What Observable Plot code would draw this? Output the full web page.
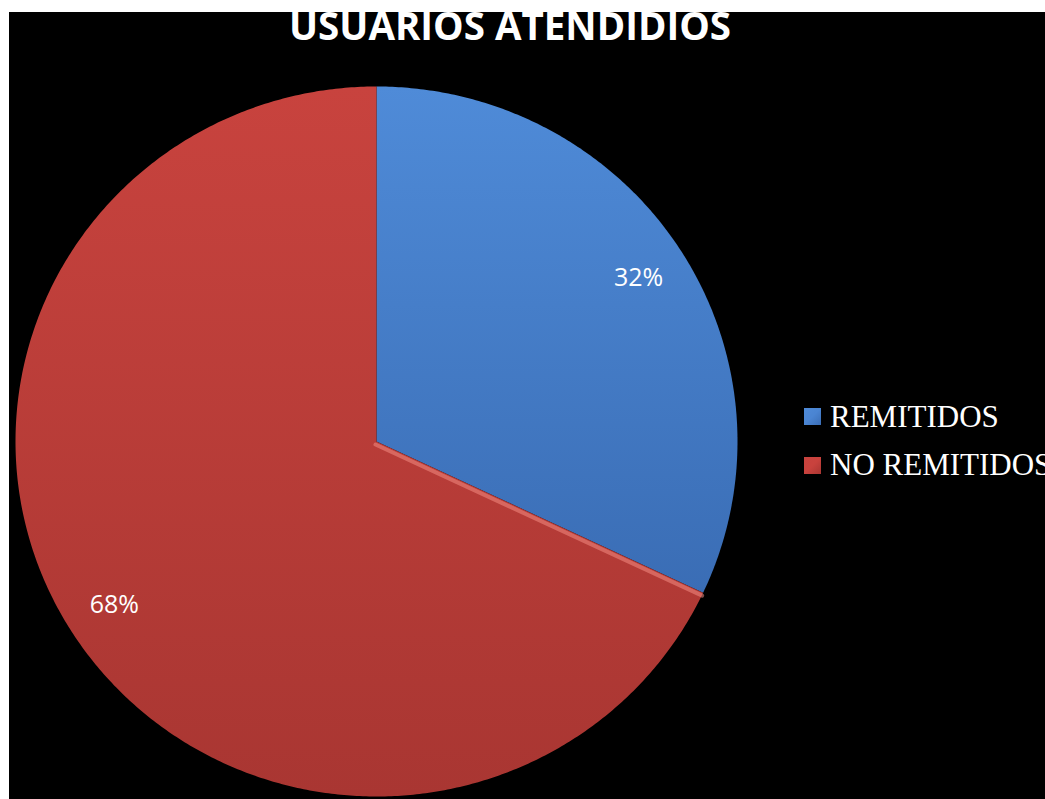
<!DOCTYPE html>
<html><head><meta charset="utf-8">
<script src="https://cdn.jsdelivr.net/npm/d3@7"></script>
<script src="https://cdn.jsdelivr.net/npm/@observablehq/plot@0.6"></script>
<style>
html,body{margin:0;padding:0;background:#fff;}
#wrap{position:absolute;left:9px;top:12px;width:1036px;height:787px;background:#000;overflow:hidden;}
#title{position:absolute;left:0;width:1002px;top:-6.5px;text-align:center;font-family:"Open Sans",sans-serif;font-weight:700;font-size:38.5px;line-height:1;color:#fff;white-space:nowrap;}
#chart{position:absolute;left:0;top:0;}
.leg{position:absolute;left:795px;font-family:"Liberation Serif","Times New Roman",serif;font-size:31px;line-height:1;color:#fff;white-space:nowrap;}
.sw{position:absolute;width:17px;height:17px;}
</style>
</head><body>
<div id="wrap">
  <div id="title">USUARIOS ATENDIDIOS</div>
  <div id="chart"></div>
  <div id="legend"></div>
</div>
<script>
// ---- data ----
const categories = ["REMITIDOS", "NO REMITIDOS"];
const shares = [32, 68];
const percentLabels = ["32%", "68%"];
// ---- styles ----
const gradTop = ["#4f8bd8", "#c8433e"];
const gradBottom = ["#3a6db5", "#a93632"];
const swatch = ["#4a84d2", "#c9423d"];

const total = d3.sum(shares);
let cum = 0;
const slices = categories.map((name, i) => {
  const a0 = 2 * Math.PI * cum / total;
  cum += shares[i];
  const a1 = 2 * Math.PI * cum / total;
  const pts = [{x: 0, y: 0}];
  const n = Math.max(2, Math.ceil((a1 - a0) / (Math.PI / 360)));
  for (let k = 0; k <= n; k++) {
    const t = a0 + (a1 - a0) * k / n;
    pts.push({x: Math.sin(t), y: Math.cos(t)});
  }
  pts.push({x: 0, y: 0});
  const am = (a0 + a1) / 2;
  return {name, i, a0, a1, pts, label: percentLabels[i], lx: 0.86 * Math.sin(am), ly: 0.86 * Math.cos(am)};
});

const defs = () => {
  const d = d3.create("svg:defs");
  slices.forEach(s => {
    const g = d.append("linearGradient").attr("id", "g" + s.i)
      .attr("x1", 0).attr("y1", 0).attr("x2", 0).attr("y2", 1);
    g.append("stop").attr("offset", "0%").attr("stop-color", gradTop[s.i]);
    g.append("stop").attr("offset", "100%").attr("stop-color", gradBottom[s.i]);
  });
  return d.node();
};

const edge = slices[1];
const edgePts = [{x: 0, y: 0}, {x: Math.sin(edge.a0), y: Math.cos(edge.a0)}];

const cx = 367, cy = 429, rx = 361, ry = 355;
const plot = Plot.plot({
  width: 1036,
  height: 787,
  margin: 0,
  style: {background: "transparent"},
  x: {domain: [-1, 1], range: [cx - rx, cx + rx], axis: null},
  y: {domain: [-1, 1], range: [cy + ry, cy - ry], axis: null},
  marks: [
    defs,
    ...slices.map(s => Plot.line(s.pts, {x: "x", y: "y", fill: `url(#g${s.i})`, stroke: "none"})),
    Plot.line(edgePts, {x: "x", y: "y", stroke: "#f28a82", strokeWidth: 4, strokeOpacity: 0.55, dy: 3, dx: -1}),
    Plot.text(slices, {x: "lx", y: "ly", text: "label", fill: "#fff", fontSize: 25, fontFamily: "Open Sans"})
  ]
});
document.getElementById("chart").appendChild(plot);

const leg = document.getElementById("legend");
categories.forEach((c, i) => {
  const sw = document.createElement("div");
  sw.className = "sw";
  sw.style.left = "795px";
  sw.style.top = (396 + i * 49) + "px";
  sw.style.background = `linear-gradient(135deg, ${gradTop[i]}, ${swatch[i]} 50%, ${gradBottom[i]})`;
  leg.appendChild(sw);
  const t = document.createElement("div");
  t.className = "leg";
  t.style.left = "821px";
  t.style.top = (389 + i * 48) + "px";
  t.textContent = c;
  leg.appendChild(t);
});
</script>
</body></html>
